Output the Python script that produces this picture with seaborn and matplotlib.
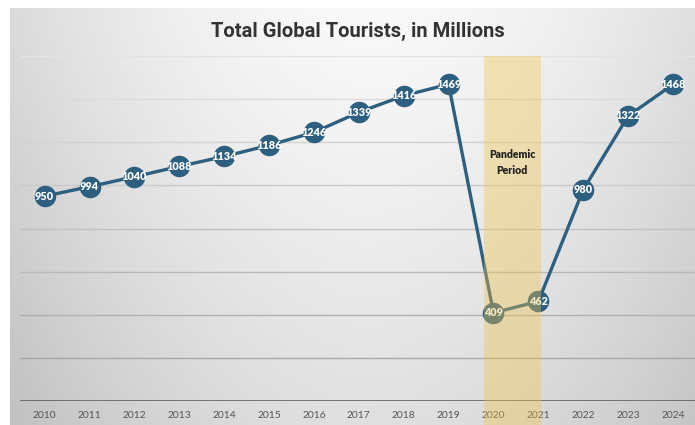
import numpy as np
import pandas as pd
import matplotlib
matplotlib.use("Agg")
import matplotlib.pyplot as plt
from matplotlib.patches import Rectangle
import seaborn as sns

# Yearly totals, millions of international tourist arrivals
years = [2010, 2011, 2012, 2013, 2014, 2015, 2016, 2017, 2018, 2019,
         2020, 2021, 2022, 2023, 2024]
tourists = [950, 994, 1040, 1088, 1134, 1186, 1246, 1339, 1416, 1469,
            409, 462, 980, 1322, 1468]
year_labels = [str(y) for y in years]
pandemic_span = (2019.78, 2021.05)
pandemic_label = "Pandemic\nPeriod"
title = "Total Global Tourists, in Millions"

sns.set_style("white")
plt.rcParams["font.family"] = ["Lato", "DejaVu Sans"]

df = pd.DataFrame({"year": years, "tourists": tourists})

fig = plt.figure(figsize=(6.95, 4.25), dpi=100)
fig.patch.set_facecolor("white")

# Soft grey backdrop: light at top centre, darker toward edges and bottom
bg = fig.add_axes([10 / 695, 0, 1 - 10 / 695, (425 - 8) / 425])
ny, nx = 200, 340
u, v = np.meshgrid(np.linspace(-1, 1, nx), np.linspace(0, 1, ny))
shade = 0.975 - 0.11 * np.abs(u - 0.05) ** 1.8 - 0.10 * v ** 1.2
bg.imshow(shade, cmap="gray", vmin=0, vmax=1, aspect="auto",
          extent=[0, 1, 0, 1], interpolation="bicubic")
bg.set_axis_off()

ax = fig.add_axes([20 / 695, 24 / 425, 1 - 20 / 695, 345 / 425])
ax.patch.set_alpha(0)

grid_levels = list(range(200, 1601, 200))
for v_ in grid_levels:
    t = (v_ - 200) / 1400
    g = 0.66 + t * (0.89 - 0.66)
    ax.axhline(v_, color=(g, g, g), lw=1.0, zorder=1)
ax.axhline(0, color="#555555", lw=1.8, zorder=2)

sns.lineplot(data=df, x="year", y="tourists", ax=ax, color="#2d5f80",
             lw=2.4, marker="o", markersize=15.5, markeredgewidth=0,
             zorder=3)

for x, y in zip(years, tourists):
    ax.text(x, y, str(y), ha="center", va="center", color="white",
            fontsize=7.8, fontweight="heavy", zorder=4)

band = Rectangle((pandemic_span[0], -112), pandemic_span[1] - pandemic_span[0],
                 1600 + 112, facecolor="#f0c44c", alpha=0.38, lw=0,
                 clip_on=False, zorder=5)
ax.add_patch(band)
ax.text(sum(pandemic_span) / 2, 1105, pandemic_label, ha="center",
        va="center", fontsize=7.6, fontweight="heavy", color="#222222",
        linespacing=1.5, zorder=6)

ax.set_xlim(2009.45, 2024.49)
ax.set_ylim(0, 1600)
ax.set_xticks(years)
ax.set_xticklabels(year_labels, fontsize=7.4, color="#555555")
ax.tick_params(axis="x", length=0, pad=7)
ax.set_yticks([])
ax.set_xlabel("")
ax.set_ylabel("")
for s in ax.spines.values():
    s.set_visible(False)

fig.text(0.515, 0.927, title, ha="center", va="center", fontsize=14.5,
         fontweight="bold", color="#333333", family=["Roboto", "DejaVu Sans"])

fig.savefig("out.png", dpi=100)
